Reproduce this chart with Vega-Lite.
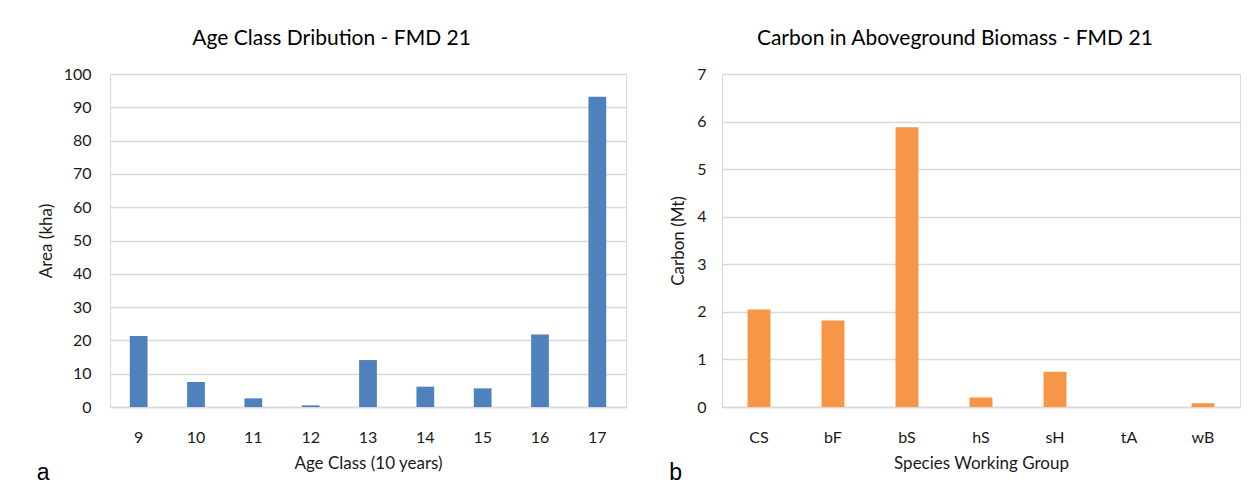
{
  "$schema": "https://vega.github.io/schema/vega-lite/v6.json",
  "background": "white",
  "padding": {"left": 36, "top": 27, "right": 5, "bottom": 5},
  "spacing": 42,
  "datasets": {
    "age": [
      {"age_class": 9, "area": 21.3},
      {"age_class": 10, "area": 7.5},
      {"age_class": 11, "area": 2.6},
      {"age_class": 12, "area": 0.5},
      {"age_class": 13, "area": 14.1},
      {"age_class": 14, "area": 6.1},
      {"age_class": 15, "area": 5.6},
      {"age_class": 16, "area": 21.8},
      {"age_class": 17, "area": 93.2}
    ],
    "carbon": [
      {"group": "CS", "carbon": 2.05},
      {"group": "bF", "carbon": 1.82},
      {"group": "bS", "carbon": 5.88},
      {"group": "hS", "carbon": 0.2},
      {"group": "sH", "carbon": 0.74},
      {"group": "tA", "carbon": 0},
      {"group": "wB", "carbon": 0.08}
    ]
  },
  "hconcat": [
    {
      "title": {"text": "a", "orient": "bottom", "anchor": "start", "font": "Liberation Sans", "fontSize": 23, "fontWeight": "normal", "color": "#000000", "offset": -10},
      "hconcat": [
        {
          "title": {"text": "Age Class Dribution - FMD 21", "frame": "bounds", "anchor": "middle", "font": "Lato", "fontSize": 21, "fontWeight": "normal", "color": "#000000", "offset": 17},
          "data": {"name": "age"},
          "width": 516,
          "height": 333,
          "mark": {"type": "bar", "color": "#4F81BD"},
          "encoding": {
            "x": {"field": "age_class", "type": "ordinal", "title": "Age Class (10 years)",
                  "scale": {"paddingInner": 0.69, "paddingOuter": 0.345},
                  "axis": {"labelAngle": 0, "labelPadding": 22, "titlePadding": 10, "grid": false}},
            "y": {"field": "area", "type": "quantitative", "title": "Area (kha)",
                  "scale": {"domain": [0, 100], "nice": false},
                  "axis": {"values": [0, 10, 20, 30, 40, 50, 60, 70, 80, 90, 100], "labelPadding": 19, "titlePadding": 8, "domain": false}}
          }
        }
      ]
    },
    {
      "title": {"text": "b", "orient": "bottom", "anchor": "start", "font": "Liberation Sans", "fontSize": 23, "fontWeight": "normal", "color": "#000000", "offset": -10},
      "hconcat": [
        {
          "title": {"text": "Carbon in Aboveground Biomass - FMD 21", "frame": "bounds", "anchor": "middle", "font": "Lato", "fontSize": 21, "fontWeight": "normal", "color": "#000000", "offset": 17},
          "data": {"name": "carbon"},
          "width": 518,
          "height": 333,
          "mark": {"type": "bar", "color": "#F79646"},
          "encoding": {
            "x": {"field": "group", "type": "nominal", "sort": null, "title": "Species Working Group",
                  "scale": {"paddingInner": 0.69, "paddingOuter": 0.345},
                  "axis": {"labelAngle": 0, "labelPadding": 22, "titlePadding": 10, "grid": false}},
            "y": {"field": "carbon", "type": "quantitative", "title": "Carbon (Mt)",
                  "scale": {"domain": [0, 7], "nice": false},
                  "axis": {"values": [0, 1, 2, 3, 4, 5, 6, 7], "labelPadding": 16, "titlePadding": 9, "domain": false}}
          }
        }
      ]
    }
  ],
  "config": {
    "view": {"stroke": "#DDDACB", "strokeWidth": 1},
    "axis": {
      "labelFont": "Lato", "titleFont": "Lato",
      "labelFontSize": 16, "titleFontSize": 17,
      "labelColor": "#1a1a1a", "titleColor": "#1a1a1a",
      "titleFontWeight": "normal",
      "ticks": false,
      "gridColor": "#D9D9D9", "gridWidth": 1.5,
      "domainColor": "#D9D9D9", "domainWidth": 1.5
    }
  }
}
